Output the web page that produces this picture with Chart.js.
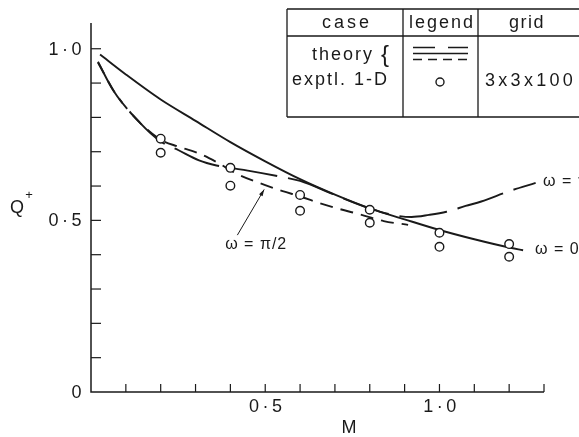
<!DOCTYPE html>
<html>
<head>
<meta charset="utf-8">
<script src="https://cdn.jsdelivr.net/npm/chart.js@4/dist/chart.umd.min.js"></script>
<style>
  html, body { margin: 0; padding: 0; background: #fff; }
</style>
</head>
<body>
<canvas id="chart" width="579" height="437"></canvas>
<script>
// theory curves (M, Q+)
const mOmega0 = [0.026, 0.1, 0.2, 0.3, 0.4, 0.5, 0.6, 0.7, 0.8, 0.9, 1.0, 1.1, 1.2, 1.24];
const qOmega0 = [0.983, 0.925, 0.852, 0.79, 0.728, 0.672, 0.62, 0.575, 0.535, 0.503, 0.472, 0.445, 0.421, 0.413];

const mOmegaPi = [0.02, 0.063, 0.14, 0.2, 0.25, 0.31, 0.36, 0.4, 0.45, 0.54, 0.6, 0.7, 0.8, 0.87, 0.92, 0.97, 1.02, 1.075, 1.12, 1.2, 1.276];
const qOmegaPi = [0.962, 0.88, 0.785, 0.73, 0.705, 0.675, 0.66, 0.653, 0.645, 0.628, 0.615, 0.574, 0.535, 0.515, 0.51, 0.516, 0.525, 0.542, 0.555, 0.585, 0.609];

const mOmegaHalf = [0.02, 0.07, 0.14, 0.2, 0.25, 0.31, 0.36, 0.42, 0.5, 0.55, 0.6, 0.65, 0.71, 0.77, 0.84, 0.91];
const qOmegaHalf = [0.96, 0.87, 0.785, 0.735, 0.715, 0.695, 0.67, 0.635, 0.603, 0.585, 0.57, 0.552, 0.534, 0.518, 0.498, 0.487];

// experiment, two readings at each M
const mExp = [0.2, 0.4, 0.6, 0.8, 1.0, 1.2];
const qExpHigh = [0.738, 0.653, 0.574, 0.531, 0.464, 0.431];
const qExpLow = [0.697, 0.601, 0.528, 0.493, 0.423, 0.394];

// axis ticks
const xMinorTicks = [0.1, 0.2, 0.3, 0.4, 0.5, 0.6, 0.7, 0.8, 0.9, 1.0, 1.1, 1.2, 1.3];
const yMinorTicks = [0.1, 0.2, 0.3, 0.4, 0.5, 0.6, 0.7, 0.8, 0.9, 1.0];
const xLabels = [[0.5, "0·5"], [1.0, "1·0"]];
const yLabels = [[0, "0"], [0.5, "0·5"], [1.0, "1·0"]];

const ink = "#1a1a1a";
const font = "'Liberation Sans', Arial, sans-serif";

let toPts = (ms, qs) => ms.map((m, i) => ({ x: m, y: qs[i] }));

function txt(ctx, s, x, y, size, align, spacing) {
  ctx.font = size + "px " + font;
  ctx.letterSpacing = (spacing || 0) + "px";
  ctx.textAlign = align || "center";
  ctx.textBaseline = "middle";
  ctx.fillStyle = ink;
  ctx.fillText(s, x, y);
  ctx.letterSpacing = "0px";
}

// axes with inward ticks, drawn by hand
const axesPlugin = {
  id: "axes",
  beforeDatasetsDraw(chart) {
    const ctx = chart.ctx;
    const xs = chart.scales.x, ys = chart.scales.y;
    const x0 = xs.getPixelForValue(0), y0 = ys.getPixelForValue(0);
    ctx.save();
    ctx.strokeStyle = ink;
    ctx.lineWidth = 1.5;
    ctx.beginPath();
    ctx.moveTo(x0, ys.top);
    ctx.lineTo(x0, y0);
    ctx.lineTo(xs.right, y0);
    ctx.stroke();
    ctx.lineWidth = 1.2;
    yMinorTicks.forEach((v) => {
      const p = ys.getPixelForValue(v);
      ctx.beginPath();
      ctx.moveTo(x0, p);
      ctx.lineTo(x0 + 10, p);
      ctx.stroke();
    });
    xMinorTicks.forEach((v) => {
      const p = xs.getPixelForValue(v);
      ctx.beginPath();
      ctx.moveTo(p, y0);
      ctx.lineTo(p, y0 - 8);
      ctx.stroke();
    });
    yLabels.forEach(([v, s]) => txt(ctx, s, x0 - 6, ys.getPixelForValue(v) + 1, 18, "right", 3.5));
    xLabels.forEach(([v, s]) => txt(ctx, s, xs.getPixelForValue(v) + 2, y0 + 15, 18, "center", 3.5));
    txt(ctx, "M", 349, 428, 18, "center");
    txt(ctx, "Q", 17, 208, 18, "center");
    txt(ctx, "+", 29, 195, 13, "center");
    ctx.restore();
  },
  afterDraw(chart) {
    const ctx = chart.ctx;
    const xs = chart.scales.x, ys = chart.scales.y;
    ctx.save();

    // curve labels
    txt(ctx, "ω = 0", xs.getPixelForValue(1.274), ys.getPixelForValue(0.414), 16, "left", 1);
    txt(ctx, "ω = π", xs.getPixelForValue(1.297), ys.getPixelForValue(0.612), 16, "left", 1);
    txt(ctx, "ω = π/2", xs.getPixelForValue(0.385), ys.getPixelForValue(0.428), 16, "left", 1);

    // arrow to the ω=π/2 curve
    const ax = xs.getPixelForValue(0.42), ay = ys.getPixelForValue(0.457);
    const bx = xs.getPixelForValue(0.497), by = ys.getPixelForValue(0.59);
    ctx.strokeStyle = ink;
    ctx.fillStyle = ink;
    ctx.lineWidth = 1;
    ctx.beginPath();
    ctx.moveTo(ax, ay);
    ctx.lineTo(bx, by);
    ctx.stroke();
    const ang = Math.atan2(by - ay, bx - ax);
    ctx.beginPath();
    ctx.moveTo(bx, by);
    ctx.lineTo(bx - 7 * Math.cos(ang - 0.3), by - 7 * Math.sin(ang - 0.3));
    ctx.lineTo(bx - 7 * Math.cos(ang + 0.3), by - 7 * Math.sin(ang + 0.3));
    ctx.closePath();
    ctx.fill();

    // the key table in the top right
    ctx.fillStyle = "#fff";
    ctx.fillRect(287, 9, 300, 108);
    ctx.strokeStyle = ink;
    ctx.lineWidth = 1.3;
    ctx.beginPath();
    ctx.moveTo(287, 9); ctx.lineTo(590, 9);
    ctx.moveTo(287, 36); ctx.lineTo(590, 36);
    ctx.moveTo(287, 117); ctx.lineTo(590, 117);
    ctx.moveTo(287, 9); ctx.lineTo(287, 117);
    ctx.moveTo(403, 9); ctx.lineTo(403, 117);
    ctx.moveTo(478, 9); ctx.lineTo(478, 117);
    ctx.stroke();

    txt(ctx, "case", 347, 23, 18, "center", 3);
    txt(ctx, "legend", 442, 23, 18, "center", 2);
    txt(ctx, "grid", 527, 23, 18, "center", 1.5);
    txt(ctx, "theory", 312, 55, 18, "left", 2);
    txt(ctx, "{", 381, 55, 24, "left", 0);
    txt(ctx, "exptl. 1-D", 292, 80, 18, "left", 2);
    txt(ctx, "3x3x100", 485, 81, 18, "left", 3.3);

    ctx.lineWidth = 1.4;
    ctx.setLineDash([22, 13]);
    ctx.beginPath(); ctx.moveTo(413, 47.5); ctx.lineTo(468, 47.5); ctx.stroke();
    ctx.setLineDash([]);
    ctx.beginPath(); ctx.moveTo(413, 53.5); ctx.lineTo(468, 53.5); ctx.stroke();
    ctx.setLineDash([9, 6]);
    ctx.beginPath(); ctx.moveTo(413, 59.5); ctx.lineTo(468, 59.5); ctx.stroke();
    ctx.setLineDash([]);
    ctx.beginPath();
    ctx.arc(440, 82, 4, 0, Math.PI * 2);
    ctx.stroke();
    ctx.restore();
  }
};

const lineStyle = {
  type: "line",
  borderColor: ink,
  borderWidth: 1.9,
  pointRadius: 0,
  fill: false,
  cubicInterpolationMode: "monotone",
  order: 2
};

new Chart(document.getElementById("chart"), {
  data: {
    datasets: [
      {
        ...lineStyle,
        label: "ω = 0",
        data: toPts(mOmega0, qOmega0)
      },
      {
        ...lineStyle,
        label: "ω = π",
        data: toPts(mOmegaPi, qOmegaPi),
        borderDash: [48, 11]
      },
      {
        ...lineStyle,
        label: "ω = π/2",
        data: toPts(mOmegaHalf, qOmegaHalf),
        borderDash: [13, 8]
      },
      {
        type: "scatter",
        label: "exptl. 1-D",
        data: toPts(mExp, qExpHigh).concat(toPts(mExp, qExpLow)),
        pointStyle: "circle",
        pointRadius: 4.3,
        pointBorderWidth: 1.4,
        pointBackgroundColor: "#fff",
        pointBorderColor: ink,
        clip: false,
        order: 0
      }
    ]
  },
  options: {
    responsive: false,
    animation: false,
    devicePixelRatio: 1,
    layout: { padding: { left: 91, right: 35, top: 23, bottom: 45 } },
    plugins: {
      legend: { display: false },
      tooltip: { enabled: false }
    },
    scales: {
      x: { type: "linear", min: 0, max: 1.3, display: false },
      y: { type: "linear", min: 0, max: 1.075, display: false }
    }
  },
  plugins: [axesPlugin]
});
</script>
</body>
</html>
